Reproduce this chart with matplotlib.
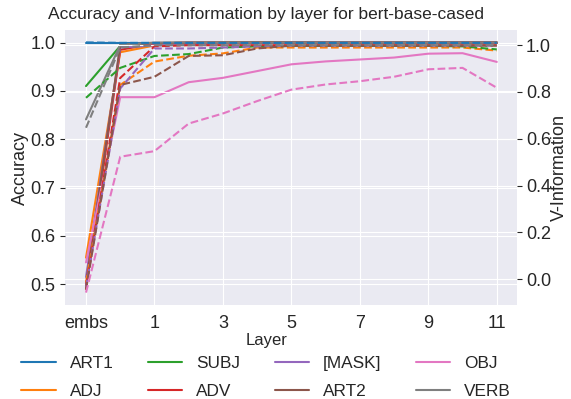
import matplotlib
matplotlib.use("Agg")
import matplotlib.pyplot as plt
import seaborn as sns

sns.set_style("darkgrid")
plt.rcParams['font.family'] = ['Liberation Sans', 'DejaVu Sans']

# Layer positions: embeddings first, then transformer layers 0..11
layer_pos = [-1, 0, 1, 2, 3, 4, 5, 6, 7, 8, 9, 10, 11]
tick_pos = [-1, 1, 3, 5, 7, 9, 11]
tick_labels = ["embs", "1", "3", "5", "7", "9", "11"]

labels = ["ART1", "ADJ", "SUBJ", "ADV", "[MASK]", "ART2", "OBJ", "VERB"]

# Probe accuracy per layer
acc_art1 = [1.0, 1.0, 1.0, 1.0, 1.0, 1.0, 1.0, 1.0, 1.0, 1.0, 1.0, 1.0, 1.0]
acc_adj = [0.555, 0.980, 0.994, 0.998, 0.999, 1.0, 1.0, 1.0, 1.0, 1.0, 1.0, 1.0, 1.0]
acc_subj = [0.910, 0.993, 0.997, 0.999, 1.0, 1.0, 1.0, 1.0, 1.0, 1.0, 1.0, 1.0, 1.0]
acc_adv = [0.490, 0.985, 0.998, 1.0, 1.0, 1.0, 1.0, 1.0, 1.0, 1.0, 1.0, 1.0, 1.0]
acc_mask = [0.515, 0.990, 0.994, 0.996, 0.998, 0.999, 1.0, 1.0, 1.0, 1.0, 1.0, 1.0, 1.0]
acc_art2 = [0.500, 0.995, 0.999, 1.0, 1.0, 1.0, 1.0, 1.0, 1.0, 1.0, 1.0, 1.0, 1.0]
acc_obj = [0.545, 0.887, 0.887, 0.918, 0.927, 0.941, 0.955, 0.961, 0.965, 0.969, 0.977, 0.978, 0.960]
acc_verb = [0.841, 0.995, 1.0, 1.0, 1.0, 1.0, 1.0, 1.0, 1.0, 1.0, 1.0, 1.0, 1.0]

# V-information per layer
vi_art1 = [1.012, 1.01, 1.01, 1.01, 1.01, 1.01, 1.01, 1.01, 1.01, 1.01, 1.01, 1.01, 1.01]
vi_adj = [-0.015, 0.83, 0.93, 0.955, 0.965, 0.99, 0.99, 0.99, 0.99, 0.99, 0.99, 0.99, 0.977]
vi_subj = [0.775, 0.903, 0.954, 0.962, 0.99, 0.995, 0.997, 0.997, 0.997, 0.997, 0.997, 0.995, 0.982]
vi_adv = [-0.03, 0.86, 0.995, 1.0, 1.0, 1.0, 1.0, 1.0, 1.0, 1.0, 1.0, 1.0, 1.0]
vi_mask = [-0.035, 0.815, 0.986, 0.986, 0.99, 0.995, 0.998, 0.998, 0.998, 0.998, 0.998, 0.998, 0.998]
vi_art2 = [-0.045, 0.83, 0.865, 0.954, 0.957, 0.986, 0.998, 0.998, 0.998, 0.998, 0.998, 0.998, 0.998]
vi_obj = [-0.058, 0.523, 0.547, 0.665, 0.708, 0.761, 0.81, 0.832, 0.846, 0.865, 0.897, 0.903, 0.818]
vi_verb = [0.647, 0.99, 1.0, 1.0, 1.0, 1.0, 1.0, 1.0, 1.0, 1.0, 1.0, 1.0, 1.0]

acc_all = [acc_art1, acc_adj, acc_subj, acc_adv, acc_mask, acc_art2, acc_obj, acc_verb]
vi_all = [vi_art1, vi_adj, vi_subj, vi_adv, vi_mask, vi_art2, vi_obj, vi_verb]
colors = plt.get_cmap("tab10").colors

fig = plt.figure(figsize=(5.71, 3.99), dpi=100)
ax = fig.add_axes([0.1138, 0.2356, 0.7916, 0.6892])
ax2 = ax.twinx()

# solid = accuracy (left axis), dashed = V-information (right axis)
for i, name in enumerate(labels):
    ax.plot(layer_pos, acc_all[i], color=colors[i], linewidth=1.5, label=name)
    ax2.plot(layer_pos, vi_all[i], color=colors[i], linewidth=1.5, linestyle="--")

ax.set_xlim(-1.614, 11.59)
ax.set_ylim(0.457, 1.026)
ax2.set_ylim(-0.111, 1.065)
ax.set_xticks(tick_pos)
ax.set_xticklabels(tick_labels)
ax.set_yticks([0.5, 0.6, 0.7, 0.8, 0.9, 1.0])
ax2.set_yticks([0.0, 0.2, 0.4, 0.6, 0.8, 1.0])
ax.tick_params(labelsize=13, colors="#262626")
ax2.tick_params(labelsize=13, colors="#262626", pad=3)
ax.set_ylabel("Accuracy", fontsize=13, color="#262626", labelpad=0.5)
ax2.set_ylabel("V-Information", fontsize=13, color="#262626", labelpad=0)

for a in (ax, ax2):
    for s in a.spines.values():
        s.set_visible(False)

fig.text(0.466, 1 - 15 / 399, "Accuracy and V-Information by layer for bert-base-cased",
         ha="center", va="center", fontsize=12.5, color="#262626")

# "Layer" heading sits above the legend rows
fig.text(0.466, 1 - 340 / 399, "Layer", ha="center", va="center",
         fontsize=12, color="#262626")
fig.legend(*ax.get_legend_handles_labels(), loc="upper center",
           bbox_to_anchor=(0.466, 1 - 340 / 399), ncol=4, frameon=False,
           fontsize=12.4, labelspacing=0.78)

fig.savefig("out.png", dpi=100)
